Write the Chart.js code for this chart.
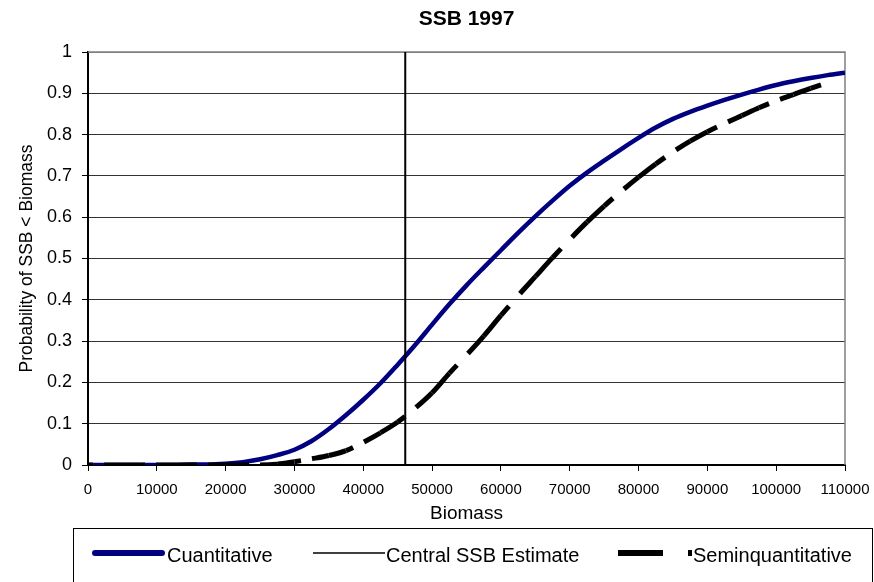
<!DOCTYPE html>
<html>
<head>
<meta charset="utf-8">
<title>SSB 1997</title>
<script src="https://cdn.jsdelivr.net/npm/chart.js@4/dist/chart.umd.min.js"></script>
<style>
  html, body { margin: 0; padding: 0; background: #fff; }
  #wrap { width: 874px; height: 582px; }
</style>
</head>
<body>
<div id="wrap"><canvas id="chart" width="874" height="582"></canvas></div>
<script>
// Probabilidad acumulada de la biomasa SSB 1997
const biomass = [0, 2500, 5000, 7500, 10000, 12500, 15000, 17500, 20000, 22500,
  25000, 27500, 30000, 32500, 35000, 37500, 40000, 42500, 45000, 47500,
  50000, 52500, 55000, 57500, 60000, 62500, 65000, 67500, 70000, 72500,
  75000, 77500, 80000, 82500, 85000, 87500, 90000, 92500, 95000, 97500,
  100000, 102500, 105000, 107500, 110000];

const cuantitative = [0, 0, 0, 0, 0, 0, 0.001, 0.001, 0.003, 0.007,
  0.014, 0.024, 0.037, 0.058, 0.087, 0.121, 0.158, 0.198, 0.243, 0.290,
  0.340, 0.389, 0.435, 0.478, 0.520, 0.562, 0.602, 0.640, 0.676, 0.708,
  0.737, 0.765, 0.792, 0.817, 0.838, 0.855, 0.870, 0.884, 0.897, 0.909,
  0.920, 0.929, 0.937, 0.944, 0.950];

const seminquantitative = [0, 0, 0, 0, 0, 0, 0, 0, 0, 0,
  0, 0.002, 0.008, 0.015, 0.023, 0.035, 0.055, 0.078, 0.104, 0.137,
  0.175, 0.222, 0.266, 0.312, 0.362, 0.410, 0.456, 0.502, 0.546, 0.588,
  0.627, 0.663, 0.697, 0.729, 0.758, 0.784, 0.807, 0.827, 0.846, 0.865,
  0.882, 0.897, 0.912, 0.926];

// estimación central de SSB
const centralEstimate = 46100;

const xTickValues = [0, 10000, 20000, 30000, 40000, 50000, 60000, 70000, 80000, 90000, 100000, 110000];
const yTickValues = [0, 0.1, 0.2, 0.3, 0.4, 0.5, 0.6, 0.7, 0.8, 0.9, 1];
const yTickLabels = ['0', '0.1', '0.2', '0.3', '0.4', '0.5', '0.6', '0.7', '0.8', '0.9', '1'];

const FONT = 'Arial, "Liberation Sans", sans-serif';

function toPoints(values) {
  return values.map((v, i) => ({ x: biomass[i], y: v }));
}

// guiones ligados al eje x, como en la hoja original
const DASH = 41, GAP = 11;
function slope(c) {
  const dx = c.p1.x - c.p0.x, dy = c.p1.y - c.p0.y;
  return dx > 0 ? Math.hypot(dx, dy) / dx : 1;
}

// marco gris arriba y a la derecha
const plotFrame = {
  id: 'plotFrame',
  beforeDatasetsDraw(chart) {
    const { ctx, chartArea: a } = chart;
    ctx.save();
    ctx.strokeStyle = '#808080';
    ctx.lineWidth = 1.5;
    ctx.beginPath();
    ctx.moveTo(a.left, a.top);
    ctx.lineTo(a.right, a.top);
    ctx.lineTo(a.right, a.bottom);
    ctx.stroke();
    ctx.restore();
  }
};

// leyenda con recuadro
const legendSlots = [
  { x0: 95, x1: 162, width: 6, cap: 'round', dash: [], tx: 167 },
  { x0: 313, x1: 385, width: 1.5, cap: 'butt', dash: [], tx: 386 },
  { x0: 618, x1: 692, width: 6, cap: 'butt', dash: [45, 25], tx: 693 }
];
const boxedLegend = {
  id: 'boxedLegend',
  afterDraw(chart) {
    const ctx = chart.ctx;
    ctx.save();
    ctx.strokeStyle = '#000';
    ctx.lineWidth = 1;
    ctx.strokeRect(73.5, 528.5, 799, 60);
    chart.data.datasets.forEach((ds, i) => {
      const s = legendSlots[i];
      ctx.beginPath();
      ctx.strokeStyle = ds.borderColor;
      ctx.lineWidth = s.width;
      ctx.lineCap = s.cap;
      ctx.setLineDash(s.dash);
      ctx.moveTo(s.x0, 553);
      ctx.lineTo(s.x1, 553);
      ctx.stroke();
      ctx.setLineDash([]);
      ctx.fillStyle = '#000';
      ctx.font = '20px ' + FONT;
      ctx.textBaseline = 'alphabetic';
      ctx.textAlign = 'left';
      ctx.fillText(ds.label, s.tx, 562);
    });
    ctx.restore();
  }
};

new Chart(document.getElementById('chart').getContext('2d'), {
  type: 'line',
  data: {
    datasets: [{
      label: 'Cuantitative',
      data: toPoints(cuantitative),
      borderColor: '#000080',
      borderWidth: 4.5,
      pointRadius: 0,
      cubicInterpolationMode: 'monotone',
      order: 3
    }, {
      label: 'Central SSB Estimate',
      data: [{ x: centralEstimate, y: 0 }, { x: centralEstimate, y: 1 }],
      borderColor: '#000',
      borderWidth: 2,
      pointRadius: 0,
      order: 2
    }, {
      label: 'Seminquantitative',
      data: toPoints(seminquantitative),
      borderColor: '#000',
      borderWidth: 5,
      pointRadius: 0,
      cubicInterpolationMode: 'monotone',
      order: 1,
      segment: {
        borderDash: c => { const k = slope(c); return [DASH * k, GAP * k]; },
        borderDashOffset: c => (c.p0.x % (DASH + GAP)) * slope(c)
      }
    }]
  },
  options: {
    responsive: false,
    animation: false,
    layout: { padding: { left: 0, right: 29, top: 0, bottom: 54 } },
    plugins: {
      legend: { display: false },
      tooltip: { enabled: false },
      title: {
        display: true,
        text: 'SSB 1997',
        fullSize: false,
        color: '#000',
        font: { family: FONT, size: 21, weight: 'bold' },
        padding: { top: 6.4, bottom: 20.4 }
      }
    },
    scales: {
      x: {
        type: 'linear',
        min: 0,
        max: 110000,
        afterBuildTicks: s => { s.ticks = xTickValues.map(v => ({ value: v })); },
        afterFit: s => { s.height = 63; s.paddingLeft = 0; s.paddingRight = 0; },
        grid: { drawOnChartArea: false, tickLength: 6, tickColor: '#000' },
        border: { color: '#000', width: 2 },
        ticks: {
          color: '#000',
          font: { family: FONT, size: 15 },
          padding: 10,
          maxRotation: 0,
          autoSkip: false,
          callback: v => String(v)
        },
        title: {
          display: true,
          text: 'Biomass',
          color: '#000',
          font: { family: FONT, size: 19 },
          padding: { top: 0, bottom: 3 }
        }
      },
      y: {
        min: 0,
        max: 1,
        afterBuildTicks: s => { s.ticks = yTickValues.map(v => ({ value: v })); },
        afterFit: s => { s.width = 88; },
        grid: {
          color: c => (c.tick && c.tick.value === 1 ? '#808080' : '#333'),
          lineWidth: 1,
          tickLength: 6,
          tickColor: '#000'
        },
        border: { color: '#000', width: 2 },
        ticks: {
          color: '#000',
          font: { family: FONT, size: 18 },
          padding: 10,
          callback: (v, i) => yTickLabels[i]
        },
        title: {
          display: true,
          text: 'Probability of SSB < Biomass',
          color: '#000',
          font: { family: FONT, size: 17.5 },
          padding: { top: 17, bottom: 0 }
        }
      }
    }
  },
  plugins: [plotFrame, boxedLegend]
});
</script>
</body>
</html>
